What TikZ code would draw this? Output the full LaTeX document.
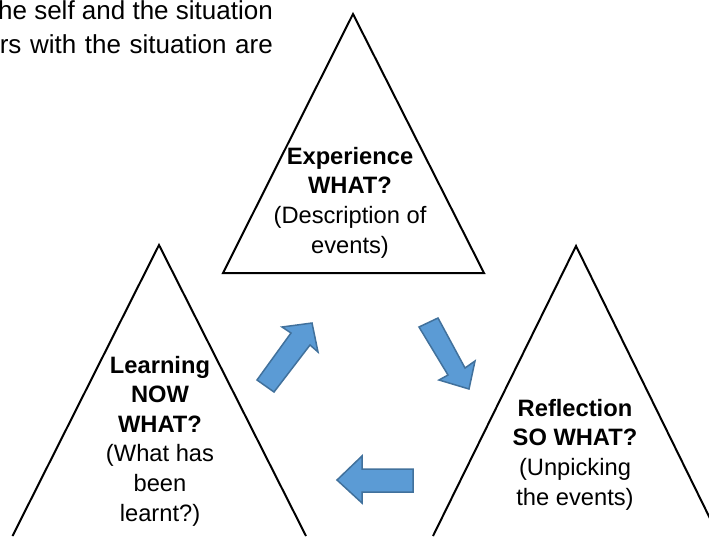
\documentclass[tikz,border=0pt]{standalone}
\usepackage{fontspec}
\setmainfont{Liberation Sans}
\begin{document}
\begin{tikzpicture}[x=1pt,y=-1pt,
  tri/.style={draw=black,line width=2pt,line join=miter},
  blockarrow/.style={fill=arrowfill,draw=arrowline,line width=1.5pt,line join=miter},
  tritext/.style={align=center,inner sep=0pt,anchor=base,font=\fontsize{23.7}{29.6}\selectfont},
  bodytext/.style={inner sep=0pt,anchor=base east,font=\fontsize{26}{34}\selectfont}]
\definecolor{arrowfill}{HTML}{5B9BD5}
\definecolor{arrowline}{HTML}{41719C}
\useasboundingbox (0,0) rectangle (709,536);
\clip (0,0) rectangle (709,536);
\fill[white] (0,0) rectangle (709,536);
% paragraph fragment
\node[bodytext] (para1) at (273,19) {the self and the situation};
\node[bodytext] (para2) at (273,53) {\makebox[273pt][s]{rs with the situation are}};
% triangles
\draw[tri] (353,14) -- (484,273) -- (223,273) -- cycle;
\draw[tri] (12.5,536) -- (159,245) -- (306,536);
\draw[tri] (433,536) -- (576,246) -- (728,555);
% texts (anchored at the baseline of the last line)
\node[tritext] (exp) at (350,253) {\textbf{Experience}\\\textbf{WHAT?}\\(Description of\\events)};
\node[tritext] (learn) at (160,521) {\textbf{Learning}\\\textbf{NOW}\\\textbf{WHAT?}\\(What has\\been\\learnt?)};
\node[tritext] (refl) at (575,505) {\textbf{Reflection}\\\textbf{SO WHAT?}\\(Unpicking\\the events)};
% block arrows
\draw[blockarrow] (257,380) -- (291,333) -- (282,327) -- (312,323) -- (318,352) -- (310,345) -- (274,392) -- cycle;
\draw[blockarrow] (419,327) -- (448,375) -- (439,380) -- (469,389) -- (475,361) -- (465,368) -- (438,318) -- cycle;
\draw[blockarrow] (413,469) -- (362,469) -- (362,456) -- (337,480) -- (362,503) -- (362,492) -- (413,492) -- cycle;
\end{tikzpicture}
\end{document}
